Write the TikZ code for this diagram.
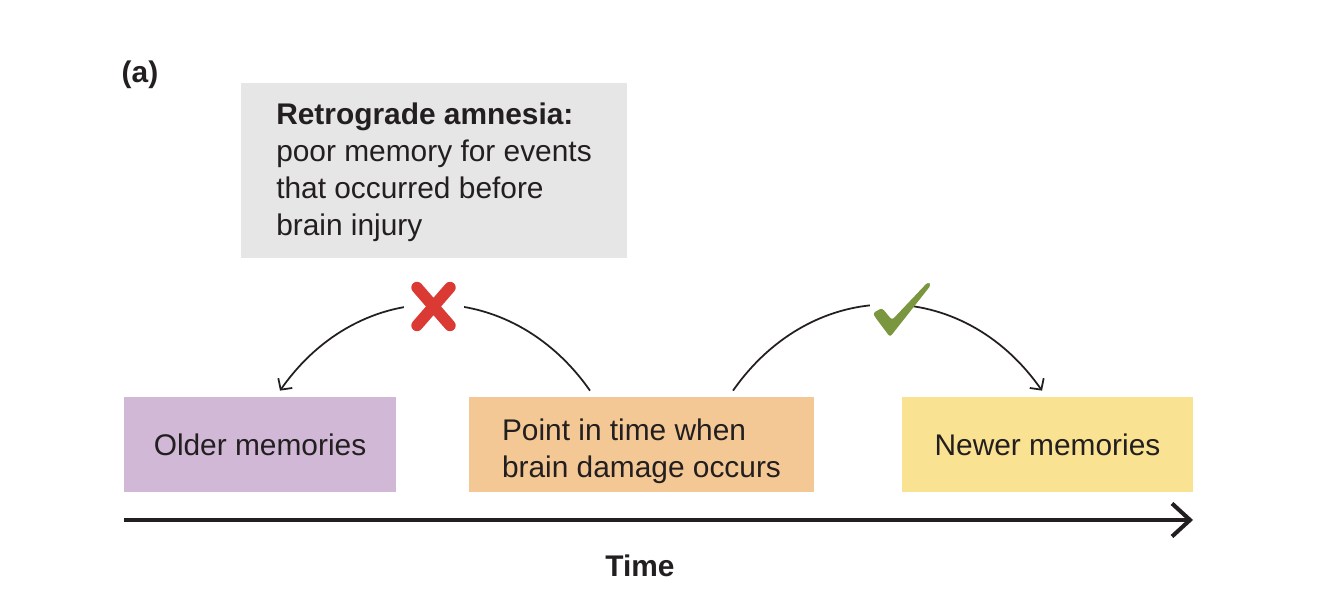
\documentclass[tikz,border=0pt]{standalone}
\usepackage{fontspec}
\setmainfont{Liberation Sans}
\definecolor{oldpurple}{RGB}{208,184,214}
\definecolor{hitorange}{RGB}{243,200,148}
\definecolor{newyellow}{RGB}{249,226,145}
\definecolor{notegray}{RGB}{230,230,230}
\definecolor{crossred}{RGB}{219,58,52}
\definecolor{tickgreen}{RGB}{122,150,62}
\definecolor{inkgray}{RGB}{35,31,32}
\usetikzlibrary{
    arrows.meta,
    positioning,
    calc
}

\begin{document}
\begin{tikzpicture}[
    memory/.style={minimum width=#1, minimum height=1.9cm, inner sep=0pt, align=left,
                   font=\fontsize{17pt}{21pt}\selectfont, text=inkgray},
    recall/.style={-{Straight Barb[length=1.6mm,width=3.4mm]}, line width=1pt, draw=inkgray},
    timeline/.style={-{Straight Barb[length=3.6mm,width=6.6mm]}, line width=2.3pt, draw=inkgray},
    bigbold/.style={font=\bfseries\fontsize{17pt}{21pt}\selectfont, text=inkgray},
    gapmask/.style={fill=white, inner sep=0pt, minimum height=0.5cm}
]
    \useasboundingbox (0,0) rectangle (26.68,12.22);

    % Panel label
    \node[bigbold] (panel) at (2.8,10.72) {(a)};

    % Definition box
    \node[fill=notegray, minimum width=7.72cm, minimum height=3.5cm, inner sep=0pt, align=left,
          font=\fontsize{17pt}{21pt}\selectfont, text=inkgray] (note) at (8.68,8.81)
          {\raisebox{-0.04cm}[\height][\depth]{\begin{tabular}{@{}l@{}}\textbf{Retrograde amnesia:}\\poor memory for events\\that occurred before\\brain injury\end{tabular}}};

    % Memory boxes
    \node[memory=5.44cm, fill=oldpurple] (older) at (5.2,3.33) {Older memories};
    \node[memory=6.9cm, fill=hitorange] (injury) at (12.83,3.33)
          {\raisebox{-0.14cm}[\height][\depth]{\begin{tabular}{@{}l@{}}Point in time when\\brain damage occurs\end{tabular}}};
    \node[memory=5.82cm, fill=newyellow] (newer) at (20.95,3.33) {Newer memories};

    % Arcs from the injury point
    \draw[recall] ([xshift=-1.03cm, yshift=0.12cm]injury.north)
        .. controls +(125:2.8) and +(55:2.8) .. ([xshift=0.4cm, yshift=0.12cm]older.north);
    \draw[recall] ([xshift=1.83cm, yshift=0.12cm]injury.north)
        .. controls +(55:2.8) and +(125:2.8) .. ([xshift=-0.11cm, yshift=0.12cm]newer.north);

    % Cross mark
    \node[gapmask, minimum width=1.2cm] (cross) at (8.67,6.09) {};
    \draw[crossred, line width=6.5pt, line cap=round]
        ($(cross)+(-0.33,0.38)$) -- ($(cross)+(0.33,-0.38)$)
        ($(cross)+(0.33,0.38)$) -- ($(cross)+(-0.33,-0.38)$);

    % Tick mark
    \node[gapmask, minimum width=0.86cm] (tick) at (17.82,6.04) {};
    \fill[tickgreen, rounded corners=1.5pt]
        ($(tick)+(-0.36,-0.08)$) -- ($(tick)+(-0.18,0.02)$) -- ($(tick)+(0.02,-0.22)$)
        -- ($(tick)+(0.74,0.54)$) -- ($(tick)+(0.80,0.48)$) -- ($(tick)+(-0.02,-0.56)$)
        -- ($(tick)+(-0.32,-0.16)$) -- cycle;

    % Time axis
    \coordinate (start) at (2.48,1.82);
    \coordinate (end) at (23.86,1.82);
    \draw[timeline] (start) -- (end);
    \node[bigbold] (time) at (12.8,0.9) {Time};
\end{tikzpicture}
\end{document}
